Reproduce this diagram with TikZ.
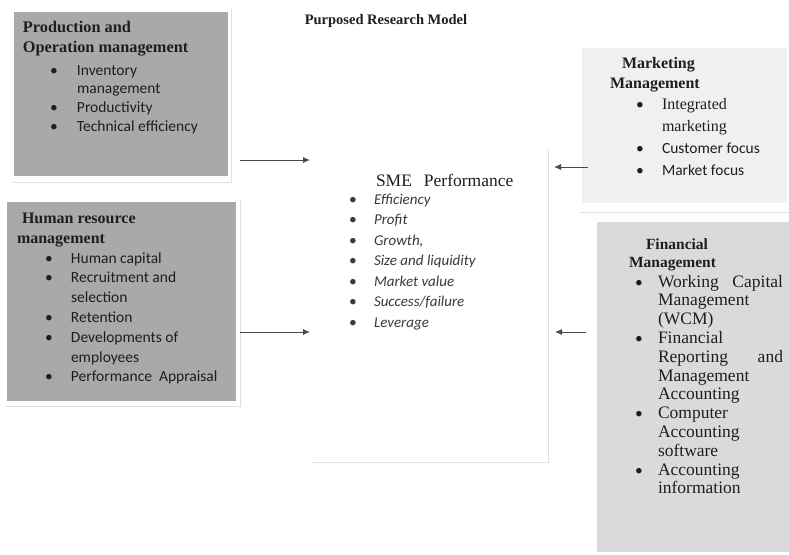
\documentclass[tikz,border=0pt]{standalone}
\usepackage{fontspec}
\setmainfont{Liberation Serif}
\newfontfamily\calibrifont{Carlito}
\usetikzlibrary{arrows.meta}

\definecolor{boxdark}{HTML}{A9A9A9}
\definecolor{boxlight}{HTML}{F0F0F0}
\definecolor{boxmid}{HTML}{DADADA}
\definecolor{ink}{HTML}{1E1E1E}
\definecolor{softink}{HTML}{3A3A3A}
\definecolor{ghost}{HTML}{E0E0E0}
\definecolor{arrowgray}{HTML}{4A4A4A}

\newcommand{\sbul}{{\calibrifont\fontsize{15.5}{18}\selectfont\upshape\textbullet}}

\tikzset{
  panel/.style={draw=none, inner sep=0pt, outer sep=0pt, anchor=north west},
  txt/.style={inner sep=0pt, outer sep=0pt, anchor=base west, text=ink},
  link/.style={draw=arrowgray, line width=0.9pt, -{Latex[length=7pt,width=6pt]}},
  ghostline/.style={draw=ghost, line width=0.8pt},
  headbold/.style={font=\fontsize{16}{20}\selectfont\bfseries},
  sanslist/.style={font=\calibrifont\fontsize{15.5}{#1}\selectfont},
}

\begin{document}
\begin{tikzpicture}[x=1pt, y=-1pt]
  \fill[white] (0,0) rectangle (789,554);
  \useasboundingbox (0,0) rectangle (789,554);

  % panels
  \node[panel, fill=boxdark, minimum width=214pt, minimum height=164pt] (prod) at (14,12) {};
  \node[panel, fill=boxdark, minimum width=229pt, minimum height=199pt] (hr) at (7,202) {};
  \node[panel, fill=boxlight, minimum width=205pt, minimum height=155pt] (mkt) at (582,48) {};
  \node[panel, fill=boxmid, minimum width=192pt, minimum height=330pt] (fin) at (597,222) {};
  \node[panel, minimum width=235pt, minimum height=312pt] (perf) at (313,150) {};

  % faint text-box frames
  \draw[ghostline] (231,9) -- (231,182) -- (12,182);
  \draw[ghostline] (240,200) -- (240,406) -- (6,406);
  \draw[ghostline] (580,212) -- (789,212);
  \draw[ghostline] (perf.north east) -- (perf.south east) -- (perf.south west);

  % title
  \node[txt, anchor=base] (title) at (386,24)
    {\fontsize{14.5}{17}\selectfont\bfseries Purposed Research Model};

  % production and operation management
  \node[txt, font=\fontsize{16.3}{20}\selectfont\bfseries] (prodhead) at (23,32)
    {\begin{tabular}[t]{@{}l@{}}Production and\\Operation management\end{tabular}};
  \node[txt, sanslist=18.7] (prodlist) at (50,75)
    {\begin{tabular}[t]{@{}p{27pt}@{}l@{}}
      \textbullet & Inventory\\
                  & management\\
      \textbullet & Productivity\\
      \textbullet & Technical efficiency
     \end{tabular}};

  % human resource management
  \node[txt, headbold] (hrhead) at (17,223)
    {\begin{tabular}[t]{@{}l@{}}\hspace*{5pt}Human resource\\management\end{tabular}};
  \node[txt, sanslist=19.8] (hrlist) at (45,263)
    {\begin{tabular}[t]{@{}p{26pt}@{}l@{}}
      \textbullet & Human capital\\
      \textbullet & Recruitment and\\
                  & selection\\
      \textbullet & Retention\\
      \textbullet & Developments of\\
                  & employees\\
      \textbullet & Performance\ \ Appraisal
     \end{tabular}};

  % marketing management
  \node[txt, headbold] (mkthead) at (610,68)
    {\begin{tabular}[t]{@{}l@{}}\hspace*{12pt}Marketing\\Management\end{tabular}};
  \node[txt, sanslist=22] (mktlist) at (636,109)
    {\begin{tabular}[t]{@{}p{26pt}@{}l@{}}
      \textbullet & {\rmfamily\fontsize{16}{22}\selectfont Integrated}\\
                  & {\rmfamily\fontsize{16}{22}\selectfont marketing}\\
      \textbullet & Customer focus\\
      \textbullet & Market focus
     \end{tabular}};

  % financial management
  \node[txt, font=\fontsize{15.5}{18}\selectfont\bfseries] (finhead) at (629,249)
    {\begin{tabular}[t]{@{}l@{}}\hspace*{17pt}Financial\\Management\end{tabular}};
  \node[txt, font=\fontsize{17.5}{18.8}\selectfont] (finlist) at (635,287)
    {\begin{tabular}[t]{@{}p{23pt}@{}l@{}}
      \sbul & \hbox to 125pt{Working\hfill Capital}\\
            & Management\\
            & (WCM)\\
      \sbul & Financial\\
            & \hbox to 125pt{Reporting\hfill and}\\
            & Management\\
            & Accounting\\
      \sbul & Computer\\
            & Accounting\\
            & software\\
      \sbul & Accounting\\
            & information
     \end{tabular}};

  % SME performance
  \node[txt, font=\fontsize{17.5}{20}\selectfont] (perfhead) at (376,186)
    {SME\hspace{12pt}Performance};
  \node[txt, text=softink, font=\calibrifont\itshape\fontsize{15}{20.5}\selectfont] (perflist) at (349,204)
    {\begin{tabular}[t]{@{}p{25pt}@{}l@{}}
      \sbul & Efficiency\\
      \sbul & Profit\\
      \sbul & Growth,\\
      \sbul & Size and liquidity\\
      \sbul & Market value\\
      \sbul & Success/failure\\
      \sbul & Leverage
     \end{tabular}};

  % influence arrows
  \coordinate (prodout) at (240,160);
  \coordinate (prodin)  at (310,160);
  \coordinate (hrout)   at (240,332);
  \coordinate (hrin)    at (310,332);
  \coordinate (mktout)  at (588,167);
  \coordinate (mktin)   at (554,167);
  \coordinate (finout)  at (586,332);
  \coordinate (finin)   at (555,332);
  \draw[link] (prodout) -- (prodin);
  \draw[link] (hrout) -- (hrin);
  \draw[link] (mktout) -- (mktin);
  \draw[link] (finout) -- (finin);
\end{tikzpicture}
\end{document}
